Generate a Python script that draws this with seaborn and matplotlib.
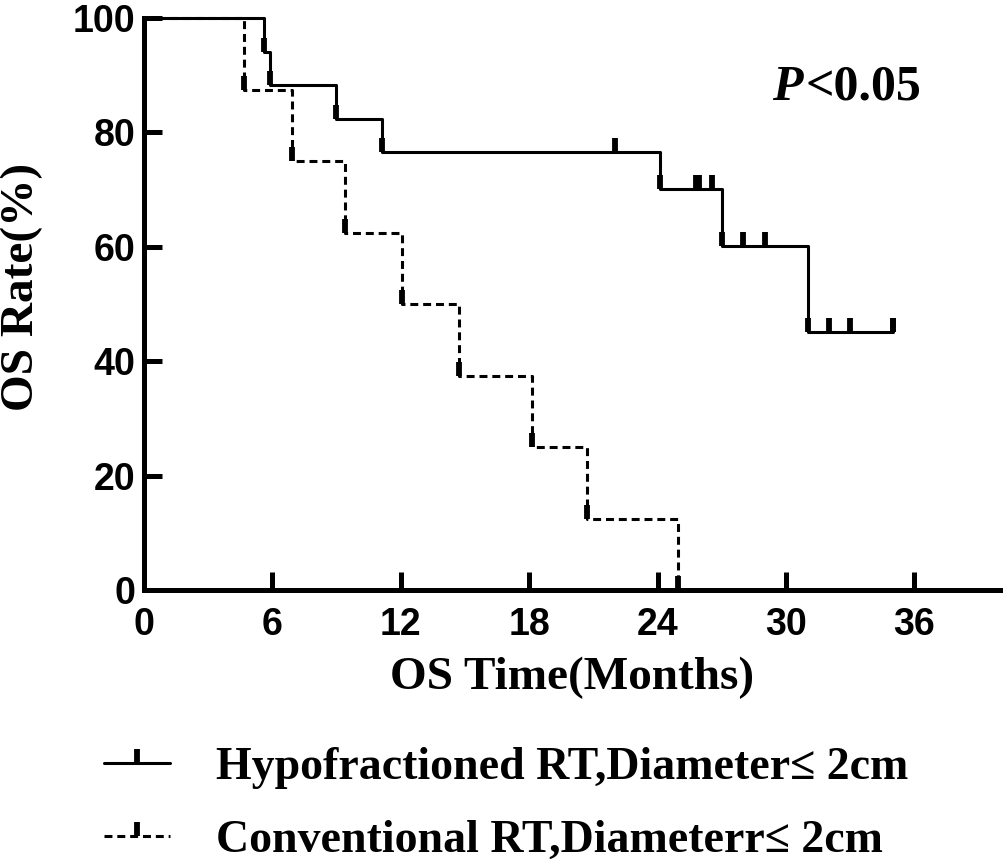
import numpy as np
import pandas as pd
import matplotlib
matplotlib.use("Agg")
import matplotlib.pyplot as plt
from matplotlib.lines import Line2D
import seaborn as sns

# ---- data ----
hypo_time = [0, 5.62, 5.91, 8.96, 11.14, 24.09, 27.02, 31.02, 35.0]
hypo_surv = [100, 94.1, 88.2, 82.4, 76.5, 70.1, 60.1, 45.1, 45.1]
hypo_censor = [22.0, 25.8, 25.95, 26.55, 28.0, 29.0, 32.0, 33.0, 35.0]

conv_time = [0, 4.68, 6.92, 9.40, 12.04, 14.73, 18.13, 20.70, 24.93]
conv_surv = [100, 87.5, 75.0, 62.5, 50.0, 37.5, 25.0, 12.5, 0.0]
conv_censor = []

labels = ["Hypofractioned RT,Diameter\u2264 2cm", "Conventional RT,Diameterr\u2264 2cm"]
x_ticks = [0, 6, 12, 18, 24, 30, 36]
y_ticks = [0, 20, 40, 60, 80, 100]

sns.set_style("ticks")
plt.rcParams["font.family"] = ["Liberation Sans", "DejaVu Sans"]
plt.rcParams["text.color"] = "black"
plt.rcParams["xtick.color"] = "black"
plt.rcParams["ytick.color"] = "black"
plt.rcParams["axes.edgecolor"] = "black"
plt.rcParams["axes.labelcolor"] = "black"

fig = plt.figure(figsize=(10.08, 8.60), dpi=100)
ax = fig.add_axes([144/1008, 1-590/860, (1000-144)/1008, (590-18)/860])

def step_level(times, surv, t):
    idx = np.searchsorted(np.asarray(times), t, side="right") - 1
    return np.asarray(surv)[idx]

dash = (0, (2.6, 1.6))
groups = [
    (hypo_time, hypo_surv, hypo_censor, "-", labels[0]),
    (conv_time, conv_surv, conv_censor, dash, labels[1]),
]

lw = 2.2
mk = dict(marker=2, markersize=10, markeredgewidth=4.2, color="black")
for times, surv, cens, ls, lab in groups:
    df = pd.DataFrame({"t": times, "s": surv})
    sns.lineplot(data=df, x="t", y="s", ax=ax, color="black", linewidth=lw,
                 linestyle=ls, drawstyle="steps-post", estimator=None,
                 sort=False, clip_on=False)
    mt = list(times[1:]) + list(cens)
    ms = [step_level(times, surv, t) for t in mt]
    ax.plot(mt, ms, linestyle="none", clip_on=False, **mk)

ax.set_xlim(0, 40)
ax.set_ylim(0, 100)
ax.set_xticks(x_ticks)
ax.set_yticks(y_ticks)
sns.despine(ax=ax)
for sp in ["left", "bottom"]:
    ax.spines[sp].set_linewidth(3.6)
ax.tick_params(axis="both", direction="in", length=13, width=3.6, colors="black")
ax.tick_params(axis="x", pad=12)
ax.tick_params(axis="y", pad=6)
for lbl in ax.get_xticklabels():
    lbl.set_fontsize(27); lbl.set_fontweight("bold"); lbl.set_family("Liberation Sans")
for lbl in ax.get_yticklabels():
    lbl.set_fontsize(27); lbl.set_fontweight("bold"); lbl.set_family("Liberation Sans")

ax.set_xlabel("OS Time(Months)", fontsize=34, fontweight="bold",
              family="Liberation Serif", labelpad=10)
ax.set_ylabel("OS Rate(%)", fontsize=34, fontweight="bold",
              family="Liberation Serif")
ax.yaxis.set_label_coords(-0.118, 0.53)

fig.text(772/1008, 1-88/860, "P", fontsize=36, fontweight="bold",
         style="italic", family="Liberation Serif", va="center", ha="left")
fig.text(806/1008, 1-88/860, "<0.05", fontsize=36, fontweight="bold",
         family="Liberation Serif", va="center", ha="left")

handles = [
    Line2D([0], [0], linestyle="-", linewidth=lw, **mk),
    Line2D([0], [0], linestyle=dash, linewidth=lw, **mk),
]
fig.legend(handles, labels, loc="upper left", bbox_to_anchor=(81/1008, 1-724/860),
           frameon=False, prop={"family": "Liberation Serif", "weight": "bold", "size": 33},
           handlelength=1.45, handletextpad=1.0, labelspacing=0.67, borderpad=0,
           numpoints=1)

fig.savefig("out.png", dpi=100)
